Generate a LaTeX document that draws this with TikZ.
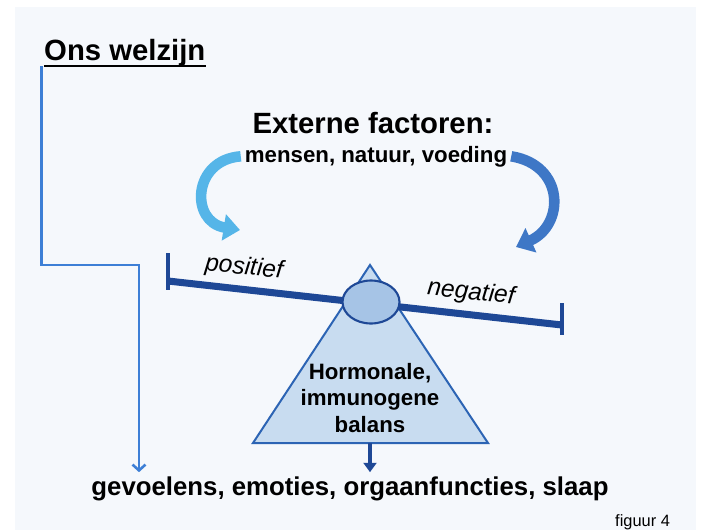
\documentclass[tikz,border=0pt]{standalone}
\usepackage{fontspec}
\setmainfont{Liberation Sans}
\usepackage{color}
\usetikzlibrary{arrows.meta,shapes.geometric}

\definecolor{paneel}{RGB}{245,248,252}
\definecolor{lijnblauw}{RGB}{61,127,214}
\definecolor{balkblauw}{RGB}{30,72,150}
\definecolor{driehoekvul}{RGB}{200,220,240}
\definecolor{driehoekrand}{RGB}{44,100,180}
\definecolor{ellipsvul}{RGB}{166,196,230}
\definecolor{pijllicht}{RGB}{85,181,232}
\definecolor{pijldonker}{RGB}{62,119,198}

\begin{document}
\begin{tikzpicture}[x=0.03cm,y=-0.03cm,
  groot/.style={font=\bfseries\fontsize{25}{30}\selectfont},
  schuin/.style={rotate=-6,font=\itshape\fontsize{21}{25}\selectfont},
  balk/.style={balkblauw,line width=6pt},
  dikkepijl/.style={line width=9pt,-{Triangle[length=14pt,width=22pt]}}]

\useasboundingbox (0,0) rectangle (702,530);
\fill[white] (0,0) rectangle (702,530);
\fill[paneel] (15,7) rectangle (696,530);

% teksten
\node[groot,anchor=base west,inner sep=0pt] (welzijn) at (44,60) {Ons welzijn};
\draw[line width=1.8pt] ([yshift=-5pt]welzijn.base west) -- ([yshift=-5pt]welzijn.base east);
\node[groot,anchor=base] (extern) at (373,133) {Externe factoren:};
\node[anchor=base,font=\bfseries\fontsize{19}{23}\selectfont] (factoren) at (376,162) {mensen, natuur, voeding};
\node[anchor=base,font=\bfseries\fontsize{22}{26}\selectfont] (gevolgen) at (350,495) {gevoelens, emoties, orgaanfuncties, slaap};
\node[anchor=north west,inner sep=0pt,font=\fontsize{14}{17}\selectfont] (figuur) at (615,514) {figuur 4};

% weegschaal
\coordinate (top) at (370,265);
\coordinate (basisl) at (253,443);
\coordinate (basisr) at (488,443);
\coordinate (basism) at (370,443);
\filldraw[fill=driehoekvul,draw=driehoekrand,line width=1.7pt] (top) -- (basisr) -- (basisl) -- cycle;

\coordinate (links) at (168,281);
\coordinate (rechts) at (562,325);
\draw[balk] (links) -- (rechts);
\draw[balk,line width=3.5pt] (links) ++(0,-28) -- ++(0,37);
\draw[balk,line width=3.5pt] (rechts) ++(0,-22) -- ++(0,32);

\node[ellipse,draw=balkblauw,fill=ellipsvul,line width=1.8pt,minimum width=1.71cm,minimum height=1.29cm,inner sep=0pt] (scharnier) at (371,302) {};

\node[schuin] (positief) at (244,268) {positief};
\node[schuin] (negatief) at (471,293) {negatief};
\node[align=center,font=\bfseries\fontsize{19}{23}\selectfont] (balans) at (370,398) {Hormonale,\\immunogene\\balans};

% pijlen
\coordinate (knik) at (139,265);
\coordinate (linksdoel) at (240,230);
\coordinate (rechtsdoel) at (516,247);
\draw[lijnblauw,line width=2.2pt,-{Straight Barb[length=5pt,width=11pt]}] ([xshift=-2pt]welzijn.south west) |- (knik) -- (knik |- gevolgen.north);
\draw[balk,line width=3.5pt,-{Triangle[length=8pt,width=11pt]}] (basism) -- (basism |- gevolgen.north);
\draw[dikkepijl,pijllicht] (factoren.west) .. controls (192,160) and (190,222) .. (linksdoel);
\draw[dikkepijl,pijldonker] (factoren.east) .. controls (565,165) and (565,225) .. (rechtsdoel);

\end{tikzpicture}
\end{document}
